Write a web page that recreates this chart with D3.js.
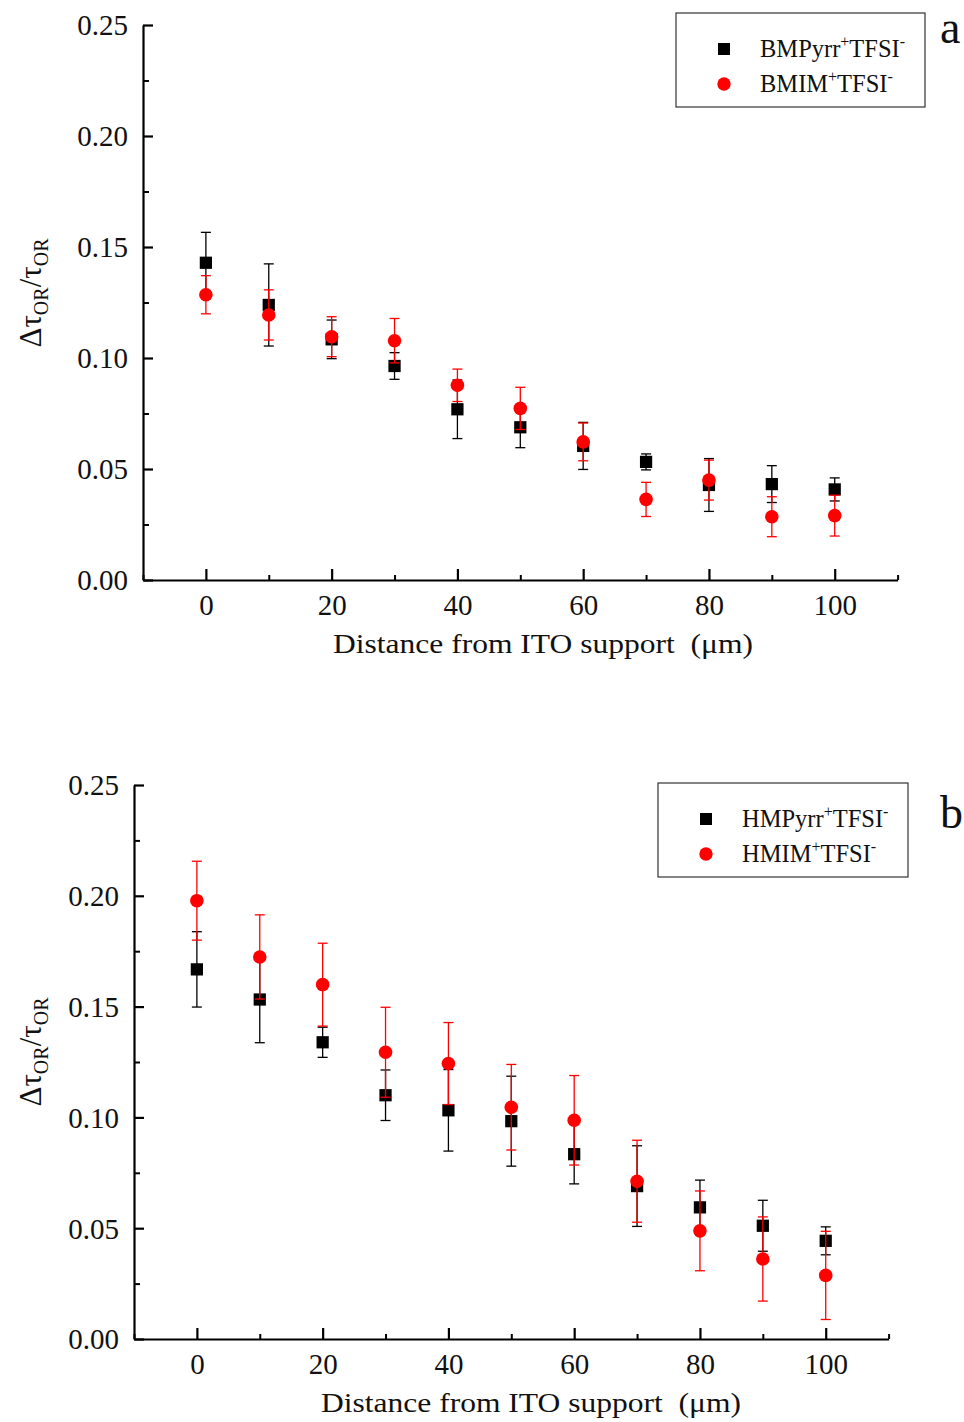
<!DOCTYPE html>
<html>
<head>
<meta charset="utf-8">
<script src="https://cdn.jsdelivr.net/npm/d3@7/dist/d3.min.js"></script>
<style>
  html, body { margin: 0; padding: 0; background: #fff; }
  svg { display: block; }
  text { font-family: "Liberation Serif", "Times New Roman", serif; fill: #111; }
</style>
</head>
<body>
<svg id="chart" width="964" height="1422"></svg>
<script>
// Distance from the ITO support (µm)
const distance = [0, 10, 20, 30, 40, 50, 60, 70, 80, 90, 100];

// Panel a: butyl-substituted ionic liquids
const bmpyrr    = [0.1429, 0.1239, 0.1084, 0.0964, 0.0769, 0.0688, 0.0604, 0.0532, 0.0428, 0.0432, 0.0408];
const bmpyrrErr = [0.0137, 0.0185, 0.0087, 0.0060, 0.0132, 0.0092, 0.0106, 0.0036, 0.0119, 0.0083, 0.0052];
const bmim      = [0.1285, 0.1194, 0.1096, 0.1078, 0.0877, 0.0773, 0.0622, 0.0363, 0.0450, 0.0285, 0.0290];
const bmimErr   = [0.0086, 0.0113, 0.0090, 0.0100, 0.0073, 0.0095, 0.0085, 0.0077, 0.0090, 0.0090, 0.0092];

// Panel b: hexyl-substituted ionic liquids
const hmpyrr    = [0.1668, 0.1532, 0.1339, 0.1100, 0.1032, 0.0983, 0.0834, 0.0690, 0.0594, 0.0511, 0.0443];
const hmpyrrErr = [0.0170, 0.0195, 0.0068, 0.0114, 0.0184, 0.0203, 0.0134, 0.0182, 0.0123, 0.0115, 0.0063];
const hmim      = [0.1978, 0.1724, 0.1599, 0.1294, 0.1243, 0.1046, 0.0987, 0.0712, 0.0488, 0.0361, 0.0287];
const hmimErr   = [0.0178, 0.0190, 0.0187, 0.0203, 0.0185, 0.0193, 0.0202, 0.0185, 0.0180, 0.0190, 0.0199];

// Axis ticks
const xTicks = [0, 20, 40, 60, 80, 100];
const xMinorTicks = [-10, 10, 30, 50, 70, 90, 110];
const yTicks = [0.00, 0.05, 0.10, 0.15, 0.20, 0.25];
const yMinorTicks = [0.025, 0.075, 0.125, 0.175, 0.225];
const xDomain = [-10, 110];
const yDomain = [0, 0.25];

const svg = d3.select("#chart");

function drawPanel(cfg) {
  const g = svg.append("g");
  const x = d3.scaleLinear().domain(xDomain).range([cfg.left, cfg.right]);
  const y = d3.scaleLinear().domain(yDomain).range([cfg.bottom, cfg.top]);

  // minor ticks (no labels)
  g.append("g")
    .attr("transform", `translate(0,${cfg.bottom})`)
    .call(d3.axisBottom(x).tickValues(xMinorTicks).tickSizeInner(-5).tickSizeOuter(0).tickFormat(""))
    .call(s => s.select(".domain").remove())
    .call(s => s.selectAll("line").attr("stroke", "#000").attr("stroke-width", 2));
  g.append("g")
    .attr("transform", `translate(${cfg.left},0)`)
    .call(d3.axisLeft(y).tickValues(yMinorTicks).tickSizeInner(-6).tickSizeOuter(0).tickFormat(""))
    .call(s => s.select(".domain").remove())
    .call(s => s.selectAll("line").attr("stroke", "#000").attr("stroke-width", 2));

  // major axes
  const xAxis = g.append("g")
    .attr("transform", `translate(0,${cfg.bottom})`)
    .call(d3.axisBottom(x).tickValues(xTicks).tickSizeInner(-11).tickSizeOuter(0).tickPadding(0).tickFormat(d3.format("d")));
  xAxis.select(".domain").attr("stroke", "#000").attr("stroke-width", 2.2);
  xAxis.selectAll(".tick line").attr("stroke", "#000").attr("stroke-width", 2.2);
  xAxis.selectAll(".tick text")
    .attr("y", 35).attr("dy", 0)
    .style("font-family", "'Liberation Serif', serif")
    .style("font-size", "29px").attr("fill", "#111");

  const yAxis = g.append("g")
    .attr("transform", `translate(${cfg.left},0)`)
    .call(d3.axisLeft(y).tickValues(yTicks).tickSizeInner(-10).tickSizeOuter(0).tickPadding(0).tickFormat(d3.format(".2f")));
  yAxis.select(".domain").attr("stroke", "#000").attr("stroke-width", 2.2);
  yAxis.selectAll(".tick line").attr("stroke", "#000").attr("stroke-width", 2.2);
  yAxis.selectAll(".tick text")
    .attr("x", -15).attr("dy", "0.34em")
    .style("font-family", "'Liberation Serif', serif")
    .style("font-size", "29px").attr("fill", "#111");

  // error bars and markers
  cfg.series.forEach(s => {
    const pts = distance.map((d, i) => ({ d, v: s.values[i], e: s.errors[i] }));
    const eb = g.append("g").attr("stroke", s.color).attr("stroke-width", 1.3).attr("fill", "none");
    eb.selectAll("line.v").data(pts).join("line")
      .attr("x1", p => x(p.d)).attr("x2", p => x(p.d))
      .attr("y1", p => y(p.v - p.e)).attr("y2", p => y(p.v + p.e));
    eb.selectAll("line.t").data(pts).join("line")
      .attr("x1", p => x(p.d) - 5).attr("x2", p => x(p.d) + 5)
      .attr("y1", p => y(p.v + p.e)).attr("y2", p => y(p.v + p.e));
    eb.selectAll("line.b").data(pts).join("line")
      .attr("x1", p => x(p.d) - 5).attr("x2", p => x(p.d) + 5)
      .attr("y1", p => y(p.v - p.e)).attr("y2", p => y(p.v - p.e));

    const sym = d3.symbol().type(s.shape === "square" ? d3.symbolSquare : d3.symbolCircle).size(s.shape === "square" ? 150 : 145);
    g.append("g").selectAll("path").data(pts).join("path")
      .attr("transform", p => `translate(${x(p.d)},${y(p.v)})`)
      .attr("d", sym)
      .attr("fill", s.color);
  });

  // axis titles
  g.append("text")
    .attr("x", cfg.xTitleX).attr("y", cfg.bottom + 73)
    .attr("text-anchor", "middle")
    .attr("xml:space", "preserve")
    .attr("textLength", 420)
    .attr("lengthAdjust", "spacingAndGlyphs")
    .style("white-space", "pre")
    .style("font-size", "28px")
    .text("Distance from ITO support  (μm)");

  const yt = g.append("text")
    .attr("transform", `translate(41,${cfg.yTitleY}) rotate(-90)`)
    .attr("text-anchor", "middle")
    .style("font-size", "31px");
  yt.append("tspan").text("Δτ");
  yt.append("tspan").attr("dy", 7).style("font-size", "20px").text("OR");
  yt.append("tspan").attr("dy", -7).text("/τ");
  yt.append("tspan").attr("dy", 7).style("font-size", "20px").text("OR");

  // legend
  const lg = g.append("g");
  lg.append("rect")
    .attr("x", cfg.legend.x).attr("y", cfg.legend.y)
    .attr("width", cfg.legend.w).attr("height", cfg.legend.h)
    .attr("fill", "#fff").attr("stroke", "#333").attr("stroke-width", 1.2);
  cfg.series.forEach((s, i) => {
    const cy = cfg.legend.y + 36 + i * 35;
    const sym = d3.symbol().type(s.shape === "square" ? d3.symbolSquare : d3.symbolCircle).size(s.shape === "square" ? 144 : 140);
    lg.append("path")
      .attr("transform", `translate(${cfg.legend.x + 48},${cy})`)
      .attr("d", sym).attr("fill", s.color);
    const t = lg.append("text")
      .attr("x", cfg.legend.x + 84).attr("y", cy + 8)
      .style("font-size", "24.5px");
    t.append("tspan").text(s.name);
    t.append("tspan").attr("dy", -10).style("font-size", "16px").text("+");
    t.append("tspan").attr("dy", 10).text("TFSI");
    t.append("tspan").attr("dy", -10).style("font-size", "16px").text("-");
  });

  // panel letter
  g.append("text")
    .attr("x", cfg.letter.x).attr("y", cfg.letter.y)
    .style("font-size", "46px")
    .text(cfg.letter.text);
}

drawPanel({
  left: 143, right: 897.6, top: 25, bottom: 580,
  xTitleX: 543, yTitleY: 293,
  legend: { x: 676, y: 13, w: 249, h: 94 },
  letter: { x: 940, y: 43, text: "a" },
  series: [
    { name: "BMPyrr", values: bmpyrr, errors: bmpyrrErr, color: "#000", shape: "square" },
    { name: "BMIM", values: bmim, errors: bmimErr, color: "#ff0000", shape: "circle" }
  ]
});

drawPanel({
  left: 134, right: 888.6, top: 785, bottom: 1339,
  xTitleX: 531, yTitleY: 1052,
  legend: { x: 658, y: 783, w: 250, h: 94 },
  letter: { x: 940, y: 828, text: "b" },
  series: [
    { name: "HMPyrr", values: hmpyrr, errors: hmpyrrErr, color: "#000", shape: "square" },
    { name: "HMIM", values: hmim, errors: hmimErr, color: "#ff0000", shape: "circle" }
  ]
});
</script>
</body>
</html>
